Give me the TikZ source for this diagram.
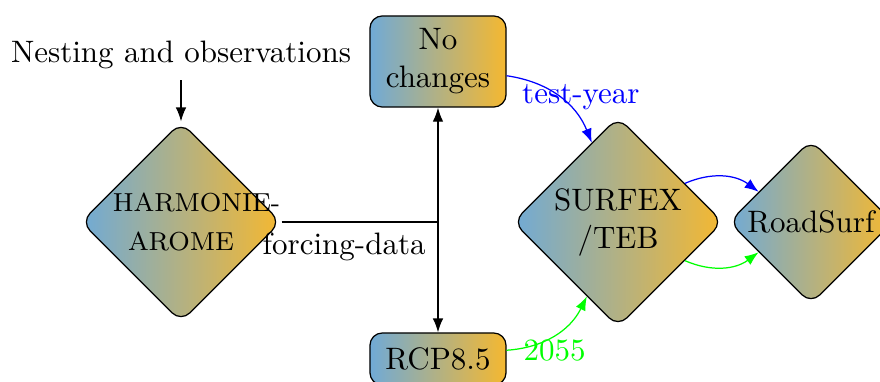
\documentclass[tikz,border=0pt]{standalone}
\usetikzlibrary{shapes.geometric, arrows.meta}
\definecolor{cL}{RGB}{112,170,214}
\definecolor{cR}{RGB}{245,184,48}
\begin{document}
\begin{tikzpicture}[x=0.32258pt, y=-0.32258pt,
  every node/.style={font=\fontsize{10}{12.26}\selectfont},
  grad/.style={draw=black, left color=cL, right color=cR},
  dia/.style={grad, diamond, shape aspect=1, rounded corners, inner sep=0pt, align=center},
  box/.style={grad, rectangle, rounded corners, minimum width=43.9pt, align=center},
  arr/.style={-{Latex[length=4.5pt,width=3.4pt]}},
]
\useasboundingbox (0,0) rectangle (880,381);

\node[anchor=south] (nest) at (181,80) {Nesting and observations};

\node[dia, minimum width=64.5pt, minimum height=64.5pt] (harm) at (181,222) {};
\node[font=\fontsize{8.4}{12.4}\selectfont, text width=44pt, align=center] (harmtext) at (181,222) {\makebox[44pt][l]{HARMONIE-}\\AROME};

\node[dia, minimum width=67.7pt, minimum height=67.7pt] (surf) at (618,222) {SURFEX\\/TEB};
\node[dia, minimum width=52.9pt, minimum height=52.9pt] (road) at (811,222) {RoadSurf};

\node[box, minimum height=29.4pt] (nochg) at (438,61.5) {No\\changes};
\node[box, minimum height=16.8pt] (rcp) at (438,359) {RCP8.5};

\coordinate (j) at (nochg |- harm);

\draw[arr] (nest) -- (harm);
\draw (harm.east) -- node[below, pos=0.4] (fd) {forcing-data} (j);
\draw[arr] (j) -- (nochg);
\draw[arr] (j) -- (rcp);
\draw[arr, blue] (nochg) to[bend left] node[pos=0.8, above] (ty) {test-year} (surf);
\draw[arr, green] (rcp) to[bend right] node[midway, below, yshift=2pt] (yr) {2055} (surf);
\draw[arr, blue] (surf) to[bend left] (road);
\draw[arr, green] (surf) to[bend right] (road);
\end{tikzpicture}
\end{document}
